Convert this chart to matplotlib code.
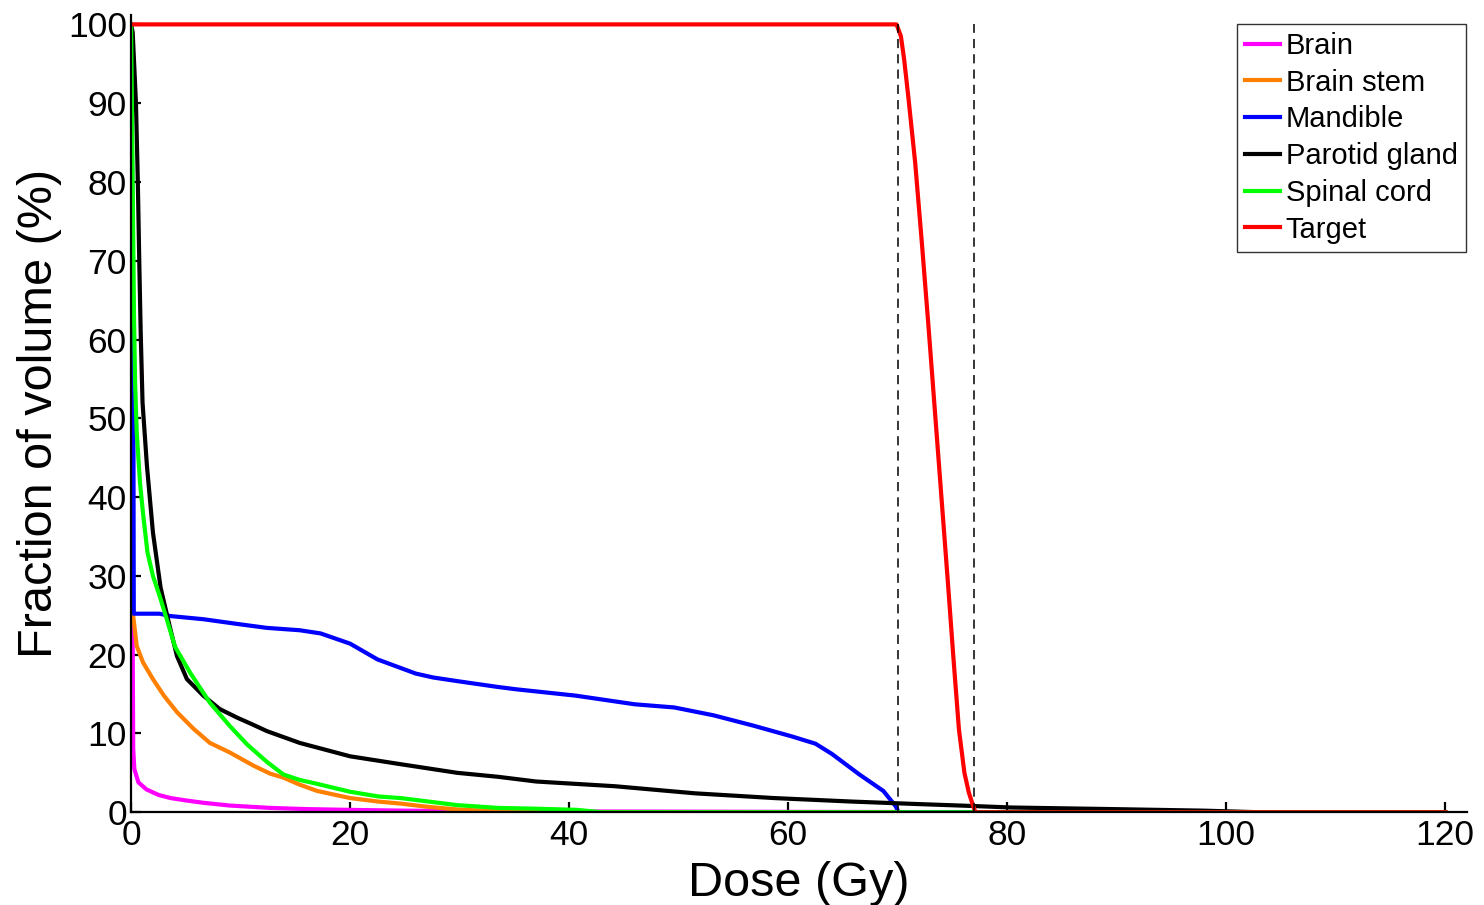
import matplotlib.pyplot as plt

plt.rcParams['font.family'] = ['Liberation Sans', 'DejaVu Sans']

# dose volume histograms, dose in Gy, volume in %
brain_dose = [0, 0.12, 0.2, 0.3, 0.67, 1.4, 2.5, 3.6, 5, 6.6, 9, 12.7, 16, 20, 25, 30, 40, 50, 60, 70, 70.5, 120]
brain_vol = [100, 30, 8, 5.5, 3.8, 2.9, 2.2, 1.8, 1.5, 1.2, 0.85, 0.55, 0.4, 0.3, 0.2, 0.15, 0.1, 0.08, 0.05, 0.03, 0, 0]

stem_dose = [0, 0.1, 0.2, 0.52, 1.1, 2.0, 3.0, 4.2, 5.7, 7.2, 9.0, 11.2, 12.7, 13.9, 15.4, 17, 20, 22.6, 24.6, 27, 29.8, 33, 36, 120]
stem_vol = [100, 30, 24.9, 21.1, 19, 16.9, 14.8, 12.7, 10.6, 8.8, 7.6, 5.9, 4.9, 4.4, 3.5, 2.7, 1.8, 1.35, 1.1, 0.7, 0.35, 0.15, 0, 0]

mand_dose = [0, 0.2, 0.25, 2.6, 3.6, 6.6, 9.7, 12.4, 15.4, 17.3, 20, 22.5, 26, 27.6, 30, 33.5, 35.2, 40.6, 46, 49.6, 53.2, 56.8, 60.4, 62.5, 64, 66.5, 68.7, 69.8, 70.1, 120]
mand_vol = [100, 60, 25.2, 25.2, 24.9, 24.5, 23.9, 23.4, 23.1, 22.7, 21.4, 19.4, 17.6, 17.1, 16.6, 15.9, 15.6, 14.8, 13.7, 13.3, 12.3, 11.0, 9.6, 8.7, 7.4, 4.8, 2.7, 0.8, 0, 0]

parotid_dose = [0, 0.15, 0.45, 0.62, 0.75, 0.88, 1.05, 1.45, 2.0, 2.7, 3.6, 4.2, 5.1, 6.6, 8.1, 9.7, 11, 12.4, 15.4, 20, 24.6, 29.8, 33.5, 37, 44.2, 51.5, 58.7, 65.9, 71.6, 76.7, 80.4, 89.6, 98, 103, 120]
parotid_vol = [100, 99, 90, 80, 70, 61, 52, 44, 35.5, 28.5, 23.2, 19.8, 16.9, 14.8, 13.1, 12.0, 11.2, 10.3, 8.8, 7.1, 6.1, 5.0, 4.5, 3.9, 3.3, 2.4, 1.8, 1.35, 1.05, 0.8, 0.6, 0.4, 0.2, 0, 0]

cord_dose = [0, 0.15, 0.27, 0.37, 0.52, 0.82, 1.12, 1.5, 2.0, 2.6, 3.26, 4.02, 5.4, 7.2, 9.05, 10.6, 12.4, 13.9, 15.4, 17, 20, 22.6, 24.6, 29.8, 33.5, 37, 40.7, 43, 120]
cord_vol = [100, 80, 63, 54.6, 48.2, 41.8, 37.6, 33, 30, 27.5, 24.5, 21, 17.7, 13.9, 10.9, 8.6, 6.4, 4.8, 4.1, 3.6, 2.6, 2.0, 1.8, 0.9, 0.55, 0.45, 0.3, 0, 0]

target_dose = [0, 69.9, 70.3, 70.6, 71.0, 71.6, 72.2, 72.8, 73.4, 74.0, 74.6, 75.1, 75.6, 76.1, 76.5, 76.9, 77.1, 120]
target_vol = [100, 100, 98.5, 95.5, 90.5, 82.5, 72.5, 62, 51, 40, 29, 19.5, 10.5, 5, 2.5, 0.8, 0, 0]

ref_doses = [70, 77]

fig = plt.figure(figsize=(14.84, 9.05), dpi=100)
ax = fig.add_axes([0.0883, 0.1025, 0.9003, 0.881])

lw = 3.0
ax.plot(brain_dose, brain_vol, color='#ff00ff', lw=lw, label='Brain')
ax.plot(stem_dose, stem_vol, color='#ff8000', lw=lw, label='Brain stem')
ax.plot(mand_dose, mand_vol, color='#0000ff', lw=lw, label='Mandible')
ax.plot(parotid_dose, parotid_vol, color='black', lw=lw, label='Parotid gland')
ax.plot(cord_dose, cord_vol, color='#00ff00', lw=lw, label='Spinal cord')
ax.plot(target_dose, target_vol, color='#ff0000', lw=lw, label='Target')
ax.vlines(ref_doses, 0, 100, colors='black', linestyles=(0, (6, 4)), lw=1.1)

ax.set_xlim(0, 122)
ax.set_ylim(0, 101.2)
ax.set_xticks(range(0, 121, 20))
ax.set_yticks(range(0, 101, 10))

for s in ['top', 'right']:
    ax.spines[s].set_visible(False)
for s in ['left', 'bottom']:
    ax.spines[s].set_linewidth(1.6)
ax.tick_params(direction='in', length=7, width=1.6, labelsize=25.5)
ax.tick_params(axis='y', pad=3)
ax.tick_params(axis='x', pad=5)

ax.set_xlabel('Dose (Gy)', fontsize=35, labelpad=6)
ax.set_ylabel('Fraction of volume (%)', fontsize=35, labelpad=4)

leg = ax.legend(loc='upper right', bbox_to_anchor=(0.999, 0.989), borderaxespad=0,
                fontsize=21, handlelength=1.2, handletextpad=0.2, labelspacing=0.3,
                borderpad=0.28, fancybox=False, framealpha=1)
leg.get_frame().set_edgecolor('#333333')
leg.get_frame().set_linewidth(1)

fig.savefig('out.png', dpi=100)
